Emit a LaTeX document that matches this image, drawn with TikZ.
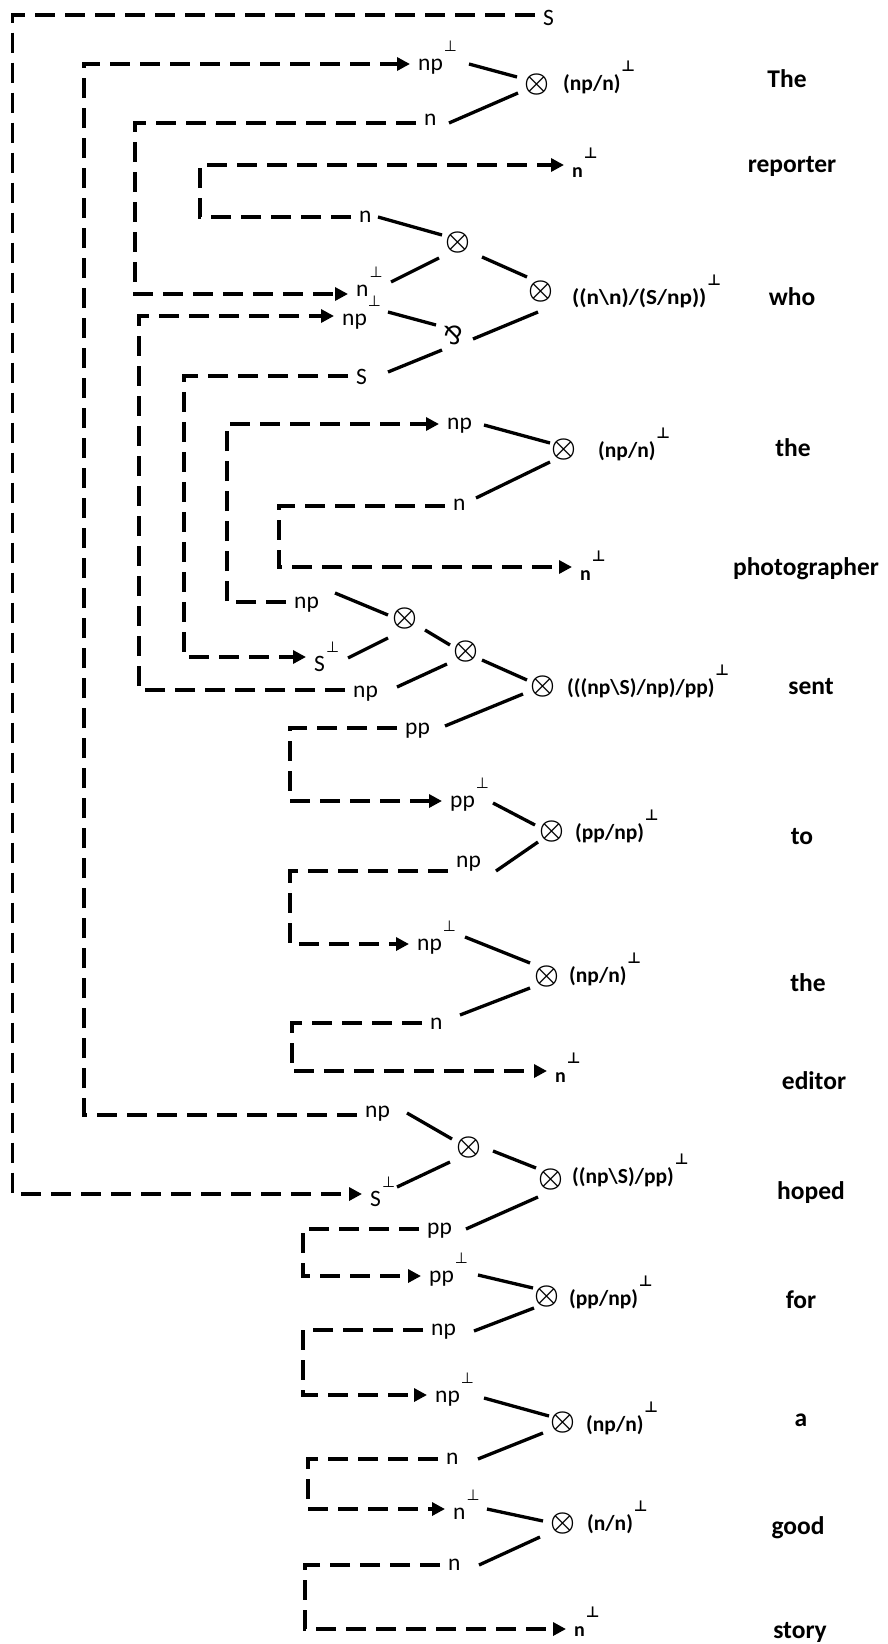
\documentclass[tikz,border=0pt]{standalone}
\usepackage{fontspec}
\usepackage{graphicx}
\setmainfont{Carlito}
\newfontfamily\symf{DejaVu Sans}
\usetikzlibrary{arrows.meta}
\newcommand\pu{\rlap{\kern1bp\raisebox{19bp}{\symf\fontsize{15bp}{15bp}\selectfont ⊥}}}
\newcommand\dn[2]{\raisebox{-#1bp}{#2}}
\newcommand\ot{\scalebox{2.8}{\boldmath$\otimes$}}
\tikzset{
  lab/.style={font=\fontsize{23.5bp}{26bp}\selectfont, anchor=mid west, inner xsep=8bp, inner ysep=0bp},
  blab/.style={lab, font=\fontsize{20bp}{24bp}\selectfont\bfseries},
  typ/.style={font=\fontsize{21.5bp}{26bp}\selectfont\bfseries, anchor=mid west, inner sep=0bp},
  word/.style={font=\fontsize{25.5bp}{30bp}\selectfont\bfseries, anchor=base, inner sep=0bp},
  op/.style={inner sep=0bp},
  dl/.style={line width=3.3bp, dash pattern=on 20bp off 10bp},
  dla/.style={dl, -{Triangle[length=13bp,width=13bp]}},
  sl/.style={line width=3.3bp},
}
\begin{document}
\begin{tikzpicture}[x=1bp,y=-1bp]
\useasboundingbox (0,0) rectangle (887,1644);
% labels
\node[lab] (Stop) at (535,15) {\dn{8}{S}};
\node[lab] (npThe) at (410,64) {\dn{4}{np\pu}};
\node[lab] (nThe) at (416,123) {n};
\node[blab] (nRep) at (564,165) {\dn{10}{n\pu}};
\node[lab] (nWho) at (351,217) {\dn{3}{n}};
\node[lab] (nPWho) at (348,294) {n\pu};
\node[lab] (npPWho) at (334,316) {\dn{7}{np\pu}};
\node[lab] (SWho) at (348,376) {\dn{6}{S}};
\node[lab] (npThe1) at (439,424) {\dn{3}{np}};
\node[lab] (nThe1) at (445,506) {\dn{2}{n}};
\node[blab] (nPhoto) at (572,567) {\dn{11}{n\pu}};
\node[lab] (npSentT) at (286,602) {\dn{4}{np}};
\node[lab] (SPSent) at (306,657) {\dn{12}{S\pu}};
\node[lab] (npSentB) at (345,690) {\dn{5}{np}};
\node[lab] (ppSent) at (397,728) {\dn{4}{pp}};
\node[lab] (ppPTo) at (442,801) {\dn{4}{pp\pu}};
\node[lab] (npTo) at (448,871) {\dn{-6}{np}};
\node[lab] (npPThe2) at (409,944) {\dn{4}{np\pu}};
\node[lab] (nThe2) at (422,1023) {\dn{4}{n}};
\node[blab] (nPEd) at (547,1071) {\dn{9}{n\pu}};
\node[lab] (npHoped) at (357,1115) {np};
\node[lab] (SPHoped) at (362,1194) {\dn{10}{S\pu}};
\node[lab] (ppHoped) at (419,1229) {\dn{3}{pp}};
\node[lab] (ppPFor) at (421,1276) {\dn{4}{pp\pu}};
\node[lab] (npFor) at (423,1330) {\dn{3}{np}};
\node[lab] (npPA) at (427,1395) {\dn{5}{np\pu}};
\node[lab] (nA) at (438,1459) {\dn{3}{n}};
\node[lab] (nPGood) at (445,1509) {\dn{8}{n\pu}};
\node[lab] (nGood) at (440,1565) {\dn{3}{n}};
\node[blab] (nPStory) at (566,1629) {\dn{5}{n\pu}};
% types
\node[typ] (tThe) at (563,88) {(np/n)\pu};
\node[typ] (tWho) at (572,302) {\scalebox{1.08}[1]{((n\textbackslash n)/(S/np))}\pu};
\node[typ] (tThe1) at (598,455) {(np/n)\pu};
\node[typ] (tSent) at (567,692) {(((np\textbackslash S)/np)/pp)\pu};
\node[typ] (tTo) at (575,837) {(pp/np)\pu};
\node[typ] (tThe2) at (569,980) {(np/n)\pu};
\node[typ] (tHoped) at (572,1181) {((np\textbackslash S)/pp)\pu};
\node[typ] (tFor) at (569,1303) {(pp/np)\pu};
\node[typ] (tA) at (586,1429) {(np/n)\pu};
\node[typ] (tGood) at (587,1528) {(n/n)\pu};
% words
\node[word] (wThe) at (787,87) {The};
\node[word] (wRep) at (792,172) {reporter};
\node[word] (wWho) at (792,305) {who};
\node[word] (wthe1) at (793,456) {the};
\node[word] (wPhoto) at (806,575) {photographer};
\node[word] (wSent) at (811,694) {sent};
\node[word] (wTo) at (802,844) {to};
\node[word] (wthe2) at (808,991) {the};
\node[word] (wEd) at (814,1089) {editor};
\node[word] (wHoped) at (811,1199) {hoped};
\node[word] (wFor) at (801,1308) {for};
\node[word] (wA) at (801,1426) {a};
\node[word] (wGood) at (798,1534) {good};
\node[word] (wStory) at (800,1638) {story};
% operators
\node[op] (oThe) at (537,85) {\ot};
\node[op] (oWhoIn) at (458,243) {\ot};
\node[op] (oWhoOut) at (541,292) {\ot};
\node[font=\symf\fontsize{25bp}{25bp}\selectfont, inner sep=0bp] (par) at (453,335) {⅋};
\node[op] (oThe1) at (564,450) {\ot};
\node[op] (oSent1) at (405,619) {\ot};
\node[op] (oSent2) at (466,652) {\ot};
\node[op] (oSent3) at (543,687) {\ot};
\node[op] (oTo) at (552,832) {\ot};
\node[op] (oThe2) at (547,977) {\ot};
\node[op] (oHoped1) at (469,1148) {\ot};
\node[op] (oHoped2) at (551,1180) {\ot};
\node[op] (oFor) at (547,1297) {\ot};
\node[op] (oA) at (563,1423) {\ot};
\node[op] (oGood) at (563,1524) {\ot};
% solid links
\draw[sl] ([shift={(59,0)}]npThe.mid west) -- ([shift={(-20,-8)}]oThe.center);
\draw[sl] ([shift={(33,0)}]nThe.mid west) -- ([shift={(-19,8)}]oThe.center);
\draw[sl] ([shift={(27,0)}]nWho.mid west) -- ([shift={(-16,-8)}]oWhoIn.center);
\draw[sl] ([shift={(43,-12)}]nPWho.mid west) -- ([shift={(-19,15)}]oWhoIn.center);
\draw[sl] ([shift={(24,14)}]oWhoIn.center) -- ([shift={(-14,-15)}]oWhoOut.center);
\draw[sl] ([shift={(54,-4)}]npPWho.mid west) -- ([shift={(-17,-10)}]par.center);
\draw[sl] ([shift={(40,-4)}]SWho.mid west) -- ([shift={(-11,15)}]par.center);
\draw[sl] ([shift={(20,4)}]par.center) -- ([shift={(-3,20)}]oWhoOut.center);
\draw[sl] ([shift={(45,1)}]npThe1.mid west) -- ([shift={(-14,-7)}]oThe1.center);
\draw[sl] ([shift={(31,-8)}]nThe1.mid west) -- ([shift={(-14,12)}]oThe1.center);
\draw[sl] ([shift={(49,-9)}]npSentT.mid west) -- ([shift={(-17,-4)}]oSent1.center);
\draw[sl] ([shift={(42,1)}]SPSent.mid west) -- ([shift={(-17,19)}]oSent1.center);
\draw[sl] ([shift={(20,11)}]oSent1.center) -- ([shift={(-16,-7)}]oSent2.center);
\draw[sl] ([shift={(52,-3)}]npSentB.mid west) -- ([shift={(-19,12)}]oSent2.center);
\draw[sl] ([shift={(16,8)}]oSent2.center) -- ([shift={(-16,-7)}]oSent3.center);
\draw[sl] ([shift={(48,-2)}]ppSent.mid west) -- ([shift={(-20,7)}]oSent3.center);
\draw[sl] ([shift={(51,2)}]ppPTo.mid west) -- ([shift={(-17,-7)}]oTo.center);
\draw[sl] ([shift={(48,0)}]npTo.mid west) -- ([shift={(-14,10)}]oTo.center);
\draw[sl] ([shift={(56,-7)}]npPThe2.mid west) -- ([shift={(-17,-14)}]oThe2.center);
\draw[sl] ([shift={(38,-8)}]nThe2.mid west) -- ([shift={(-17,11)}]oThe2.center);
\draw[sl] ([shift={(50,-2)}]npHoped.mid west) -- ([shift={(-17,-9)}]oHoped1.center);
\draw[sl] ([shift={(35,-7)}]SPHoped.mid west) -- ([shift={(-19,14)}]oHoped1.center);
\draw[sl] ([shift={(24,3)}]oHoped1.center) -- ([shift={(-15,-12)}]oHoped2.center);
\draw[sl] ([shift={(47,0)}]ppHoped.mid west) -- ([shift={(-13,17)}]oHoped2.center);
\draw[sl] ([shift={(57,-1)}]ppPFor.mid west) -- ([shift={(-14,-9)}]oFor.center);
\draw[sl] ([shift={(51,1)}]npFor.mid west) -- ([shift={(-13,11)}]oFor.center);
\draw[sl] ([shift={(57,3)}]npPA.mid west) -- ([shift={(-14,-7)}]oA.center);
\draw[sl] ([shift={(40,0)}]nA.mid west) -- ([shift={(-20,10)}]oA.center);
\draw[sl] ([shift={(42,0)}]nPGood.mid west) -- ([shift={(-20,-3)}]oGood.center);
\draw[sl] ([shift={(39,0)}]nGood.mid west) -- ([shift={(-23,13)}]oGood.center);
% dashed links
\draw[dla] (Stop.mid west) -| (12.5,1194) -- (SPHoped.mid west);
\draw[dla] (npHoped.mid west) -| (84,64) -- (npThe.mid west);
\draw[dla] (nThe.mid west) -| (135,294) -- (nPWho.mid west);
\draw[dla] (nWho.mid west) -| (200,165) -- (nRep.mid west);
\draw[dla] (npSentB.mid west) -| (139,316) -- (npPWho.mid west);
\draw[dla] (SWho.mid west) -| (184,657) -- (SPSent.mid west);
\draw[dla] (npSentT.mid west) -| (227,424) -- (npThe1.mid west);
\draw[dla] (nThe1.mid west) -| (279,567) -- (nPhoto.mid west);
\draw[dla] (ppSent.mid west) -| (290,801) -- (ppPTo.mid west);
\draw[dla] (npTo.mid west) -| (290,944) -- (npPThe2.mid west);
\draw[dla] (nThe2.mid west) -| (292,1071) -- (nPEd.mid west);
\draw[dla] (ppHoped.mid west) -| (303,1276) -- (ppPFor.mid west);
\draw[dla] (npFor.mid west) -| (303,1395) -- (npPA.mid west);
\draw[dla] (nA.mid west) -| (308,1509) -- (nPGood.mid west);
\draw[dla] (nGood.mid west) -| (305,1629) -- (nPStory.mid west);
\end{tikzpicture}
\end{document}
